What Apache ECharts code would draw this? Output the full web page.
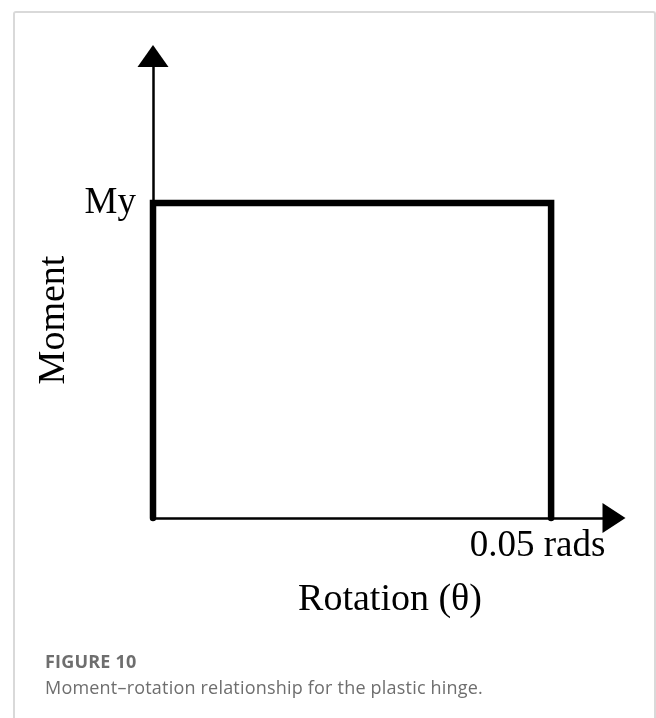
<!DOCTYPE html>
<html>
<head>
<meta charset="utf-8">
<script src="https://cdn.jsdelivr.net/npm/echarts@6/dist/echarts.min.js"></script>
<style>
  html, body { margin: 0; padding: 0; background: #fff; overflow: hidden; }
  #frame {
    position: absolute; left: 13px; top: 11px; width: 643px; height: 720px;
    border: 2px solid #d9d9d9; border-bottom: none; border-radius: 3px 3px 0 0;
    box-sizing: border-box;
  }
  #chart { position: absolute; left: 0; top: 0; width: 656px; height: 718px; }
  .cap { position: absolute; left: 45px; font-family: 'Open Sans', Lato, sans-serif; font-size: 18px; letter-spacing: 0.2px; color: #6e6e6e; line-height: 20px; white-space: nowrap; }
  #figNo { top: 651px; font-weight: bold; }
  #figText { top: 677px; }
</style>
</head>
<body>
<div id="frame"></div>
<div id="chart"></div>
<div class="cap" id="figNo">FIGURE 10</div>
<div class="cap" id="figText">Moment–rotation relationship for the plastic hinge.</div>
<script>
// plastic hinge: rigid up to My, then flat until 0.05 rads, then drops
const rotation = [0, 0, 0.05, 0.05]
const moment = [0, 1, 1, 0]
const xTickValue = 0.05
const xTickLabel = '0.05 rads'
const yTickValue = 1
const yTickLabel = 'My'

const serif = "'Liberation Serif', 'DejaVu Serif', serif"
const chart = echarts.init(document.getElementById('chart'), null, { renderer: 'canvas' })

const axisLine = (size) => ({
  show: true,
  symbol: ['none', 'triangle'],
  symbolSize: size,
  lineStyle: { color: '#000', width: 2.5 }
})

chart.setOption({
  animation: false,
  grid: { left: 153, right: 42, top: 56, bottom: 200 },
  xAxis: {
    type: 'value',
    min: 0,
    max: 0.0579,
    interval: 0.05,
    splitLine: { show: false },
    axisTick: { show: false },
    axisLine: axisLine([30, 23]),
    axisLabel: {
      margin: 10,
      fontSize: 37,
      fontFamily: serif,
      color: '#000',
      padding: [0, 27, 0, 0],
      formatter: v => (Math.abs(v - xTickValue) < 1e-9 ? xTickLabel : '')
    },
    name: 'Rotation (θ)',
    nameLocation: 'middle',
    nameGap: 63,
    nameTextStyle: { fontSize: 38, fontFamily: serif, color: '#000', padding: [0, 0, 0, 13] }
  },
  yAxis: {
    type: 'value',
    min: 0,
    max: 1.4667,
    interval: 1,
    splitLine: { show: false },
    axisTick: { show: false },
    axisLine: axisLine([31, 22]),
    axisLabel: {
      margin: 17,
      fontSize: 37,
      fontFamily: serif,
      color: '#000',
      formatter: v => (Math.abs(v - yTickValue) < 1e-9 ? yTickLabel : '')
    },
    name: 'Moment',
    nameLocation: 'middle',
    nameGap: 80,
    nameTextStyle: { fontSize: 38, fontFamily: serif, color: '#000', padding: [0, 66, 0, 0] }
  },
  series: [{
    type: 'line',
    data: rotation.map((r, i) => [r, moment[i]]),
    symbol: 'none',
    clip: false,
    silent: true,
    lineStyle: { color: '#000', width: 6.5, cap: 'round', join: 'miter' }
  }]
})
</script>
</body>
</html>
